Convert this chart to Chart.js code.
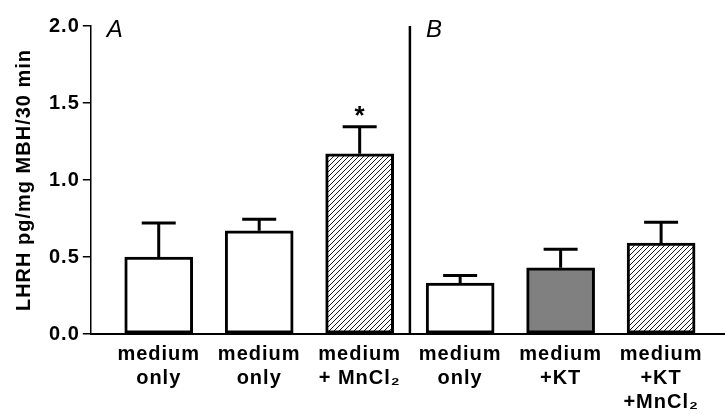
<!DOCTYPE html>
<html>
<head>
<meta charset="utf-8">
<script src="https://cdn.jsdelivr.net/npm/chart.js@4.4.0/dist/chart.umd.min.js"></script>
<style>
  html, body { margin: 0; padding: 0; background: #fff; }
  #wrap { width: 725px; height: 414px; }
</style>
</head>
<body>
<div id="wrap"><canvas id="chart"></canvas></div>
<script>
// Data
const categories = [
  ['medium', 'only'],
  ['medium', 'only'],
  ['medium', '+ MnCl₂'],
  ['medium', 'only'],
  ['medium', '+KT'],
  ['medium', '+KT', '+MnCl₂']
];
const means = [0.50, 0.67, 1.17, 0.33, 0.43, 0.59];
const sem = [0.22, 0.075, 0.175, 0.05, 0.12, 0.135];
const fills = ['white', 'white', 'hatch', 'white', 'gray', 'hatch'];
const yTicks = [0, 0.5, 1.0, 1.5, 2.0];
const panels = ['A', 'B'];
const significant = [false, false, true, false, false, false];

const FONT = '"Liberation Sans", Arial, sans-serif';

// diagonal hatch like the original
function makeHatch() {
  const c = document.createElement('canvas');
  c.width = 5; c.height = 5;
  const g = c.getContext('2d');
  g.fillStyle = '#fff';
  g.fillRect(0, 0, 5, 5);
  g.strokeStyle = '#000';
  g.lineWidth = 0.9;
  g.beginPath();
  g.moveTo(0, 5); g.lineTo(5, 0);
  g.moveTo(-1, 1); g.lineTo(1, -1);
  g.moveTo(4, 6); g.lineTo(6, 4);
  g.stroke();
  return g.createPattern(c, 'repeat');
}
const hatch = makeHatch();
const colourFor = f => f === 'hatch' ? hatch : (f === 'gray' ? '#808080' : '#ffffff');

const spacing = {
  id: 'spacing',
  beforeUpdate(chart) { chart.ctx.letterSpacing = '1px'; },
  beforeDraw(chart) { chart.ctx.letterSpacing = '1px'; }
};

// SEM bars (upward only), asterisk, panel divider and letters
const extras = {
  id: 'extras',
  afterDatasetsDraw(chart) {
    const ctx = chart.ctx;
    const x = chart.scales.x, y = chart.scales.y;
    const meta = chart.getDatasetMeta(0);
    ctx.save();
    ctx.strokeStyle = '#000';
    ctx.lineWidth = 3;
    meta.data.forEach((bar, i) => {
      const top = y.getPixelForValue(means[i] + sem[i]);
      ctx.beginPath();
      ctx.moveTo(bar.x, bar.y);
      ctx.lineTo(bar.x, top);
      ctx.moveTo(bar.x - 17, top);
      ctx.lineTo(bar.x + 17, top);
      ctx.stroke();
      if (significant[i]) {
        ctx.fillStyle = '#000';
        ctx.font = 'bold 26px ' + FONT;
        ctx.textAlign = 'center';
        ctx.textBaseline = 'middle';
        ctx.letterSpacing = '0px';
        ctx.fillText('*', bar.x, top - 10);
      }
    });
    // divider between panel A and B
    const dx = x.getPixelForValue(2.5);
    ctx.lineWidth = 2.5;
    ctx.beginPath();
    ctx.moveTo(dx, y.getPixelForValue(2.0));
    ctx.lineTo(dx, y.bottom);
    ctx.stroke();
    // panel letters
    ctx.fillStyle = '#000';
    ctx.font = 'italic 24px ' + FONT;
    ctx.textAlign = 'left';
    ctx.textBaseline = 'alphabetic';
    ctx.letterSpacing = '0px';
    const base = y.getPixelForValue(2.0) + 11;
    ctx.fillText(panels[0], x.left + 16, base);
    ctx.fillText(panels[1], dx + 16, base);
    ctx.restore();
  }
};

new Chart(document.getElementById('chart'), {
  type: 'bar',
  data: {
    datasets: [{
      data: means.map((v, i) => ({ x: i, y: v })),
      backgroundColor: fills.map(colourFor),
      borderColor: '#000',
      borderWidth: 3,
      borderSkipped: false,
      barThickness: 68
    }]
  },
  options: {
    responsive: true,
    maintainAspectRatio: false,
    animation: false,
    layout: { padding: { top: 26, right: 0, left: 12, bottom: 0 } },
    plugins: { legend: { display: false }, tooltip: { enabled: false } },
    scales: {
      x: {
        type: 'linear',
        offset: false,
        min: -0.676,
        max: 5.636,
        afterBuildTicks(scale) { scale.ticks = categories.map((_, i) => ({ value: i })); },
        grid: { display: false, offset: false },
        border: { display: true, color: '#000', width: 2 },
        ticks: {
          autoSkip: false,
          maxRotation: 0,
          padding: 0,
          color: '#000',
          font: { family: FONT, size: 20, weight: 'bold', lineHeight: 1.2 },
          callback: v => categories[v]
        }
      },
      y: {
        min: 0,
        max: 2,
        afterBuildTicks(scale) { scale.ticks = yTicks.map(v => ({ value: v })); },
        grid: { display: true, drawOnChartArea: false, drawTicks: true, tickLength: 8, color: '#000', lineWidth: 1.5 },
        border: { display: true, color: '#000', width: 1.5 },
        ticks: {
          padding: 3,
          color: '#000',
          font: { family: FONT, size: 20, weight: 'bold' },
          callback: v => v.toFixed(1)
        },
        title: {
          display: true,
          text: 'LHRH pg/mg MBH/30 min',
          color: '#000',
          padding: { top: 0, bottom: 10 },
          font: { family: FONT, size: 20, weight: 'bold' }
        }
      }
    }
  },
  plugins: [spacing, extras]
});
</script>
</body>
</html>
